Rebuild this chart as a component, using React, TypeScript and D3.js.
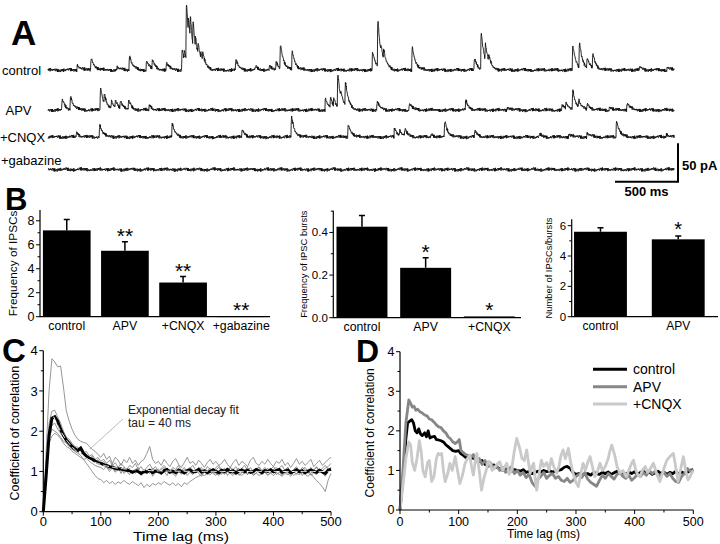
import React from 'react';
import * as d3 from 'd3';

const FONT = "'Liberation Sans', Arial, Helvetica, sans-serif";

// ---------------- Panel A: raw traces (event times in ms, amplitudes in pA) ----------------
const TRACE_LABELS = ['control', 'APV', '+CNQX', '+gabazine'];
const CONTROL_EVENTS: number[][] = [
  [230, 7], [339, 16], [545, 4], [643, 18], [778, 12], [825, 11], [937, 9], [1061, 26], [1080, 12],
  [1095, 72], [1112, 22], [1127, 32], [1148, 34], [1168, 15], [1188, 17], [1210, 8], [1225, 9],
  [1487, 12], [1643, 4], [1754, 4], [1807, 10], [1841, 31], [1934, 24], [2572, 23], [2614, 60],
  [2640, 9], [2661, 12], [2887, 31], [3381, 15], [3434, 47], [3468, 21], [3495, 7], [4161, 31],
  [4214, 33], [4275, 12], [4320, 19], [4693, 4], [4910, 4],
];
const APV_EVENTS: number[][] = [
  [109, 13], [175, 17], [413, 29], [444, 13], [500, 9], [532, 9], [571, 10], [637, 11], [801, 6],
  [2198, 15], [2238, 12], [2264, 10], [2296, 42], [2320, 8], [2357, 30], [2609, 10], [2865, 8],
  [3312, 12], [3641, 4], [4077, 6], [4109, 7], [4161, 25], [4209, 9], [4276, 8], [4453, 4], [4593, 9],
];
const CNQX_EVENTS: number[][] = [
  [222, 6], [407, 16], [982, 16], [1537, 9], [1929, 26], [2379, 17], [2746, 12], [2788, 7],
  [2828, 8], [3037, 4], [3145, 20], [3384, 8], [3900, 3], [4130, 4], [4276, 5], [4508, 21], [4905, 4],
];
const GABAZINE_EVENTS: number[][] = [];
const TRACE_BASELINES_PX = [70, 110, 137, 169.5];
const NOISE_FAST = [0.6, -0.9, 1.2, -0.4, 0.2, -1.3, 0.8, -0.1, 1.0, -0.7, 0.3, -1.1, 0.9, -0.5, 1.4, -0.2, 0.5, -1.2, 0.1, 0.7, -0.8, 1.1, -0.3, 0.4, -1.4, 0.6, -0.6, 1.3, 0.0, -1.0, 0.8, -0.4, 0.2, 1.0, -0.9, 0.5, -1.2, 0.3, 0.9, -0.7, 1.2, -0.1, -0.5, 0.7, -1.3, 0.4, 1.1, -0.8, 0.1, -0.3, 0.9, -1.0, 0.6];
const NOISE_SLOW = [0.4, 0.9, 0.6, -0.2, -0.8, -1.0, -0.5, 0.3, 0.8, 1.0, 0.5, -0.1, -0.7, -0.9, -0.4, 0.2, 0.7, 0.9, 0.3, -0.3, -0.8, -0.6, 0.1, 0.6, 1.0, 0.7, 0.0, -0.6, -1.0, -0.7, -0.2, 0.4, 0.8, 0.5, -0.1, -0.5, -0.3];
const TRACE_DURATION = 4970;
const SAMPLE_MS = 2;

// ---------------- Panel B: bar charts ----------------
const B1_CATS = ['control', 'APV', '+CNQX', '+gabazine'];
const B1_VALUES = [7.2, 5.5, 2.85, 0.05];
const B1_ERRORS = [0.9, 0.75, 0.5, 0];
const B1_STARS = ['', '**', '**', '**'];
const B1_TICKS = [0, 2, 4, 6, 8];
const B1_MINOR = [1, 3, 5, 7];

const B2_CATS = ['control', 'APV', '+CNQX'];
const B2_VALUES = [0.427, 0.234, 0.006];
const B2_ERRORS = [0.053, 0.047, 0];
const B2_STARS = ['', '*', '*'];
const B2_TICKS = [0, 0.2, 0.4];
const B2_MINOR = [0.1, 0.3, 0.5];

const B3_CATS = ['control', 'APV'];
const B3_VALUES = [5.6, 5.1];
const B3_ERRORS = [0.27, 0.22];
const B3_STARS = ['', '*'];
const B3_TICKS = [0, 2, 4, 6];
const B3_MINOR = [1, 3, 5];

// ---------------- Panel C: cross-correlograms (5 ms bins) ----------------
const C_G1 = [0, 1.5, 3.0, 3.8, 3.72, 3.6, 3.62, 3.1, 2.5, 2.25, 2.05, 1.9, 1.8, 1.75, 1.72, 1.7, 1.62, 1.55, 1.5, 1.42, 1.35, 1.45, 1.3, 1.38, 1.2, 1.35, 1.28, 1.15, 1.3, 1.22, 1.35, 1.2, 1.28, 1.15, 1.25, 1.3, 1.45, 1.62, 1.3, 1.2, 1.25, 1.15, 1.3, 1.2, 1.12, 1.25, 1.32, 1.18, 1.1, 1.22, 1.35, 1.2, 1.25, 1.15, 1.28, 1.2, 1.1, 1.22, 1.3, 1.18, 1.25, 1.15, 1.2, 1.3, 1.18, 1.1, 1.22, 1.3, 1.15, 1.25, 1.2, 1.12, 1.28, 1.35, 1.2, 1.15, 1.25, 1.18, 1.3, 1.2, 1.12, 1.25, 1.2, 1.3, 1.15, 1.22, 1.1, 1.2, 1.32, 1.18, 1.25, 1.15, 1.22, 1.3, 1.12, 1.2, 1.28, 1.15, 1.22, 1.3, 1.35];
const C_G2 = [0, 1.2, 2.2, 2.5, 2.52, 2.35, 2.2, 2.0, 1.85, 1.8, 1.7, 1.62, 1.6, 1.5, 1.45, 1.5, 1.38, 1.42, 1.3, 1.35, 1.25, 1.3, 1.2, 1.28, 1.15, 1.22, 1.1, 1.2, 1.12, 1.05, 1.15, 1.1, 1.2, 1.05, 1.12, 1.0, 1.1, 1.18, 1.05, 1.12, 1.0, 1.08, 1.15, 1.05, 0.98, 1.1, 1.05, 1.15, 1.02, 1.1, 0.98, 1.08, 1.15, 1.02, 1.1, 1.05, 0.98, 1.12, 1.05, 1.0, 1.1, 1.15, 1.02, 1.08, 0.98, 1.1, 1.05, 1.12, 1.0, 1.08, 1.15, 1.02, 1.1, 0.98, 1.05, 1.12, 1.02, 1.1, 0.97, 1.05, 1.12, 1.0, 1.08, 1.15, 1.02, 1.1, 0.98, 1.05, 1.12, 1.0, 1.1, 1.05, 0.95, 1.1, 1.02, 1.12, 1.0, 1.08, 1.15, 1.05, 1.1];
const C_G3 = [0, 1.0, 1.8, 2.05, 2.0, 1.95, 1.85, 1.75, 1.7, 1.62, 1.55, 1.5, 1.45, 1.4, 1.3, 1.2, 1.1, 1.0, 0.9, 0.82, 0.8, 0.72, 0.78, 0.7, 0.75, 0.68, 0.74, 0.7, 0.78, 0.72, 0.68, 0.75, 0.7, 0.65, 0.72, 0.6, 0.68, 0.62, 0.7, 0.66, 0.72, 0.68, 0.75, 0.7, 0.66, 0.72, 0.65, 0.7, 0.62, 0.72, 0.68, 0.75, 0.8, 0.85, 0.88, 0.92, 0.9, 0.95, 0.92, 0.98, 0.95, 0.9, 0.97, 0.93, 1.0, 0.95, 0.9, 0.98, 0.94, 0.9, 0.97, 0.93, 0.99, 0.92, 0.96, 0.9, 0.95, 0.98, 0.92, 0.96, 0.9, 0.97, 0.93, 0.88, 0.95, 0.92, 0.98, 0.9, 0.95, 0.92, 0.97, 0.93, 0.88, 0.95, 0.85, 0.78, 0.7, 0.62, 0.5, 0.78, 0.95];
const C_G4 = [0, 1.1, 1.9, 2.15, 2.2, 2.05, 1.95, 1.85, 1.72, 1.65, 1.55, 1.6, 1.48, 1.42, 1.5, 1.35, 1.3, 1.38, 1.22, 1.3, 1.18, 1.25, 1.1, 1.05, 1.2, 1.0, 1.12, 0.95, 1.1, 1.0, 0.92, 1.05, 0.95, 1.08, 0.9, 1.0, 0.94, 1.05, 0.88, 0.98, 1.05, 0.92, 1.0, 0.9, 1.05, 0.95, 0.88, 1.0, 0.93, 1.05, 0.9, 0.98, 0.92, 1.05, 0.95, 0.88, 1.0, 0.92, 1.05, 0.95, 0.9, 1.0, 0.93, 1.05, 0.9, 0.98, 0.94, 1.02, 0.9, 0.97, 1.05, 0.92, 1.0, 0.9, 0.96, 1.05, 0.92, 1.0, 0.9, 0.97, 1.04, 0.92, 0.98, 0.9, 1.02, 0.95, 0.88, 1.0, 0.93, 1.05, 0.9, 0.98, 1.03, 0.9, 0.97, 0.92, 1.05, 0.95, 0.88, 1.0, 1.05];
const C_G5 = [0, 1.0, 1.7, 1.88, 1.95, 1.9, 1.82, 1.7, 1.62, 1.58, 1.5, 1.45, 1.4, 1.35, 1.3, 1.32, 1.25, 1.2, 1.15, 1.12, 1.1, 1.05, 1.12, 1.0, 1.08, 0.98, 1.05, 1.1, 0.95, 1.02, 1.08, 0.96, 1.04, 1.1, 0.98, 1.05, 1.0, 0.95, 1.08, 1.02, 0.96, 1.05, 1.1, 0.98, 1.05, 0.95, 1.02, 1.08, 1.0, 0.95, 1.05, 1.1, 1.0, 0.96, 1.05, 1.1, 0.98, 1.02, 1.08, 0.96, 1.04, 1.1, 1.0, 0.95, 1.05, 1.1, 0.98, 1.03, 1.08, 0.96, 1.02, 1.1, 1.0, 0.95, 1.05, 1.1, 0.98, 1.02, 1.08, 0.96, 1.05, 1.1, 1.0, 0.95, 1.04, 1.1, 0.98, 1.02, 1.08, 0.96, 1.05, 1.1, 1.0, 0.95, 1.05, 1.1, 0.98, 1.02, 1.08, 1.12, 1.2];
const C_MEAN = [0, 0.9, 1.9, 2.32, 2.36, 2.25, 2.05, 1.9, 1.78, 1.7, 1.62, 1.56, 1.52, 1.58, 1.45, 1.38, 1.33, 1.3, 1.26, 1.22, 1.2, 1.17, 1.15, 1.12, 1.1, 1.08, 1.06, 1.06, 1.04, 1.03, 1.02, 0.98, 1.02, 1.0, 0.95, 1.0, 0.99, 1.03, 0.97, 1.01, 1.0, 0.96, 1.02, 1.05, 0.98, 1.01, 0.97, 1.03, 1.0, 0.96, 1.02, 1.04, 0.99, 1.0, 1.05, 0.98, 1.02, 0.97, 1.0, 1.04, 1.0, 0.97, 1.03, 1.0, 1.05, 0.99, 1.02, 0.96, 1.01, 1.04, 0.99, 1.03, 0.98, 1.0, 1.05, 1.01, 0.97, 1.02, 1.0, 1.04, 0.99, 1.02, 1.05, 0.98, 1.01, 1.03, 0.97, 1.0, 1.04, 0.99, 1.02, 0.97, 1.01, 1.04, 1.0, 0.98, 1.03, 0.99, 0.95, 1.03, 1.06];
const C_BIN_MS = 5;
const FIT_TAU = 40;
const FIT_AMP = 1.36;
const FIT_OFFSET = 1.0;
const FIT_START = 18;

// ---------------- Panel D: group correlograms [ms, coefficient] ----------------
const D_CONTROL: number[][] = [[0, 0], [5, 0.8], [10, 1.8], [13, 2.2], [17, 2.25], [20, 2.28], [23, 2.2], [26, 2.0], [29, 1.95], [32, 2.05], [35, 1.92], [38, 1.88], [42, 1.95], [45, 1.85], [48, 2.0], [51, 1.82], [55, 1.85], [59, 1.86], [62, 1.78], [66, 1.77], [70, 1.75], [74, 1.72], [78, 1.65], [82, 1.6], [86, 1.55], [90, 1.5], [95, 1.48], [100, 1.5], [104, 1.42], [108, 1.38], [112, 1.33], [116, 1.35], [120, 1.3], [125, 1.32], [130, 1.25], [135, 1.22], [140, 1.25], [145, 1.15], [150, 1.18], [155, 1.1], [160, 1.14], [165, 1.08], [170, 1.05], [175, 1.0], [180, 1.05], [185, 1.0], [190, 0.98], [195, 1.02], [200, 1.0], [205, 0.98], [210, 1.02], [215, 0.95], [220, 0.97], [225, 0.92], [230, 0.95], [235, 0.98], [240, 0.96], [245, 1.0], [250, 0.97], [255, 0.99], [260, 0.96], [265, 0.98], [270, 1.0], [275, 1.02], [280, 1.08], [285, 1.1], [290, 1.05], [295, 0.95], [300, 0.9], [305, 0.92], [310, 0.88], [315, 0.9], [320, 0.92], [325, 0.88], [330, 0.95], [335, 0.92], [340, 0.9], [345, 0.95], [350, 0.92], [355, 0.96], [360, 0.9], [365, 0.94], [370, 0.98], [375, 0.92], [380, 0.95], [385, 0.9], [390, 0.96], [395, 0.92], [400, 0.97], [405, 0.9], [410, 0.95], [415, 0.98], [420, 0.92], [425, 0.96], [430, 0.9], [435, 0.94], [440, 0.98], [445, 0.92], [450, 0.96], [455, 0.9], [460, 0.95], [465, 0.92], [470, 0.98], [475, 0.9], [480, 0.96], [485, 0.92], [490, 0.95], [495, 1.0], [500, 1.02]];
const D_APV: number[][] = [[0, 0], [5, 1.0], [10, 2.2], [15, 2.78], [18, 2.7], [21, 2.6], [24, 2.62], [27, 2.52], [30, 2.55], [34, 2.48], [38, 2.45], [42, 2.4], [46, 2.38], [50, 2.3], [54, 2.28], [58, 2.22], [62, 2.15], [66, 2.1], [70, 2.08], [74, 2.0], [78, 1.95], [82, 1.85], [86, 1.8], [90, 1.72], [94, 1.68], [98, 1.72], [101, 1.78], [104, 1.5], [108, 1.45], [112, 1.4], [116, 1.38], [120, 1.32], [125, 1.4], [130, 1.22], [135, 1.3], [140, 1.15], [145, 1.25], [150, 1.1], [155, 1.18], [160, 1.05], [165, 1.12], [170, 1.0], [175, 1.08], [180, 0.95], [185, 1.02], [190, 1.1], [195, 0.92], [200, 1.0], [205, 0.88], [210, 0.95], [215, 0.82], [220, 0.9], [225, 0.7], [230, 0.6], [235, 0.78], [240, 0.85], [245, 0.95], [250, 0.8], [255, 0.88], [260, 0.92], [265, 0.8], [270, 0.85], [275, 0.75], [280, 0.72], [285, 0.8], [290, 0.7], [295, 0.75], [300, 0.85], [305, 0.9], [310, 0.82], [315, 0.95], [320, 0.78], [325, 0.7], [330, 0.65], [335, 0.6], [340, 0.75], [345, 0.88], [350, 0.8], [355, 0.92], [360, 0.85], [365, 0.78], [370, 0.9], [375, 0.95], [380, 0.85], [385, 0.8], [390, 0.88], [395, 0.75], [400, 0.82], [405, 0.9], [410, 0.85], [415, 0.95], [420, 0.88], [425, 1.0], [430, 0.92], [435, 0.98], [440, 0.85], [445, 0.9], [450, 0.95], [455, 0.85], [460, 0.92], [465, 0.8], [470, 0.72], [475, 0.7], [480, 0.85], [485, 0.92], [490, 1.05], [495, 0.98], [500, 1.0]];
const D_CNQX: number[][] = [[0, 0], [5, 0.6], [10, 1.3], [15, 1.72], [18, 1.65], [21, 1.2], [25, 1.0], [29, 1.3], [33, 1.75], [36, 1.5], [39, 1.0], [43, 0.84], [47, 1.2], [50, 1.25], [54, 0.72], [58, 0.85], [62, 1.3], [65, 1.43], [68, 1.4], [71, 1.43], [74, 1.0], [77, 0.72], [81, 0.9], [85, 1.18], [89, 1.0], [94, 1.35], [98, 1.0], [102, 0.67], [106, 0.85], [111, 1.18], [115, 1.3], [119, 1.39], [122, 1.1], [125, 0.88], [128, 1.2], [131, 1.43], [135, 1.0], [139, 0.5], [143, 0.8], [147, 1.0], [150, 1.22], [153, 1.22], [157, 1.0], [160, 1.05], [165, 1.15], [170, 1.22], [175, 1.0], [179, 1.1], [182, 1.18], [186, 0.9], [190, 1.0], [195, 1.5], [199, 1.81], [204, 1.56], [208, 1.3], [212, 1.25], [216, 1.52], [219, 1.2], [222, 0.93], [225, 1.1], [228, 1.18], [231, 0.7], [233, 0.5], [237, 0.9], [241, 1.26], [245, 1.1], [250, 1.2], [254, 1.0], [258, 1.3], [262, 1.1], [267, 0.93], [271, 1.1], [274, 1.35], [278, 1.52], [282, 1.3], [287, 1.56], [291, 1.2], [295, 0.93], [300, 0.7], [304, 0.59], [308, 0.9], [312, 1.18], [316, 1.0], [320, 1.2], [324, 1.35], [328, 1.1], [332, 0.84], [336, 0.95], [341, 1.18], [345, 1.0], [350, 1.1], [355, 1.3], [358, 1.5], [361, 1.64], [366, 1.39], [370, 1.1], [375, 0.93], [380, 1.0], [386, 0.84], [390, 1.0], [394, 1.15], [398, 1.26], [402, 1.0], [405, 0.9], [409, 0.84], [413, 1.0], [418, 1.1], [422, 0.95], [427, 1.05], [432, 1.18], [437, 0.95], [443, 0.72], [448, 0.95], [451, 1.1], [455, 1.26], [460, 1.35], [466, 1.43], [470, 1.1], [474, 0.72], [478, 1.0], [483, 1.35], [487, 1.0], [491, 0.76], [495, 0.85], [497, 0.93], [500, 1.0]];
const D_LEGEND = ['control', 'APV', '+CNQX'];
const D_COLORS = ['#000000', '#878787', '#c9c9c9'];

const CORR_X_TICKS = [0, 100, 200, 300, 400, 500];
const CORR_X_MINOR = [50, 150, 250, 350, 450];
const CORR_Y_TICKS = [0, 1, 2, 3, 4];
const CORR_Y_MINOR = [0.5, 1.5, 2.5, 3.5];

function buildTrace(events: number[][], fastOff: number, slowOff: number) {
  const n = Math.floor(TRACE_DURATION / SAMPLE_MS);
  const out: [number, number][] = [];
  for (let i = 0; i <= n; i++) {
    const t = i * SAMPLE_MS;
    let v =
      NOISE_FAST[(i * 3 + fastOff) % NOISE_FAST.length] * 1.5 +
      NOISE_SLOW[Math.floor((i + slowOff) / 9) % NOISE_SLOW.length] * 0.8;
    for (const [te, a] of events) {
      const d = t - te;
      if (d >= 0 && d < 300) v += (a * (1 - Math.exp(-d / 1.8)) * Math.exp(-d / 24)) / 0.77;
    }
    out.push([t, v]);
  }
  return out;
}

function PanelA() {
  const x = d3.scaleLinear().domain([0, 5000]).range([48, 678]);
  const evs = [CONTROL_EVENTS, APV_EVENTS, CNQX_EVENTS, GABAZINE_EVENTS];
  const labelPos = [
    { x: 2, y: 74.5, anchor: 'start' },
    { x: 18.5, y: 114.5, anchor: 'middle' },
    { x: 0, y: 141.5, anchor: 'start' },
    { x: 1, y: 164.5, anchor: 'start' },
  ];
  const yBar = d3.scaleLinear().domain([0, 50]).range([181.7, 143.3]);
  return (
    <g>
      <text x={11} y={45} fontSize={35} fontWeight="bold" fontFamily={FONT}>A</text>
      {evs.map((e, k) => {
        const y = d3.scaleLinear().domain([0, 50]).range([TRACE_BASELINES_PX[k], TRACE_BASELINES_PX[k] - 38]);
        const line = d3.line<[number, number]>().x((d) => x(d[0])).y((d) => y(d[1]));
        const data = buildTrace(e, k * 13, k * 29);
        return <path key={k} d={line(data) || ''} fill="none" stroke="#111" strokeWidth={0.9} />;
      })}
      {TRACE_LABELS.map((l, k) => (
        <text key={l} x={labelPos[k].x} y={labelPos[k].y} fontSize={13} fontFamily={FONT} textAnchor={labelPos[k].anchor}>{l}</text>
      ))}
      <path d={`M${x(4500)},${yBar(0)}H${x(5000)}V${yBar(50)}`} fill="none" stroke="#000" strokeWidth={2} />
      <text x={682} y={170} fontSize={13} fontWeight="bold" fontFamily={FONT}>50 pA</text>
      <text x={x(4750)} y={196} fontSize={13} fontWeight="bold" fontFamily={FONT} textAnchor="middle">500 ms</text>
    </g>
  );
}

interface BarProps {
  cats: string[]; values: number[]; errors: number[]; stars: string[];
  ticks: number[]; minor: number[]; yMax: number;
  axisX: number; bandEnd: number; axisEnd: number; y0: number; yTop: number;
  pi: number; po: number;
  label: string; labelX: number; labelSize: number; tickSize: number; catSize: number;
  fmt: (v: number) => string; starSize: number; catY: number;
}

function BarPanel(p: BarProps) {
  const x = d3.scaleBand<string>().domain(p.cats).range([p.axisX, p.bandEnd]).paddingInner(p.pi).paddingOuter(p.po);
  const y = d3.scaleLinear().domain([0, p.yMax]).range([p.y0, p.yTop]);
  const bw = x.bandwidth();
  return (
    <g fontFamily={FONT}>
      {p.cats.map((c, i) => {
        const cx = (x(c) as number) + bw / 2;
        const top = y(p.values[i] + p.errors[i]);
        return (
          <g key={c}>
            <rect x={x(c)} y={y(p.values[i])} width={bw} height={Math.max(1, p.y0 - y(p.values[i]))} fill="#000" />
            {p.errors[i] > 0 && (
              <path d={`M${cx},${y(p.values[i])}V${top}M${cx - 3},${top}H${cx + 3}`} stroke="#000" strokeWidth={1.5} fill="none" />
            )}
            {p.stars[i] && (
              <text x={cx} y={top - 11 + 0.57 * p.starSize} fontSize={p.starSize} textAnchor="middle">{p.stars[i]}</text>
            )}
            <text x={cx} y={p.catY} fontSize={p.catSize} textAnchor="middle">{c}</text>
          </g>
        );
      })}
      <path d={`M${p.axisX},${p.yTop}V${p.y0}H${p.axisEnd}`} stroke="#000" strokeWidth={1.2} fill="none" />
      {p.ticks.map((t) => (
        <g key={t}>
          <line x1={p.axisX - 4} x2={p.axisX} y1={y(t)} y2={y(t)} stroke="#000" strokeWidth={1} />
          <text x={p.axisX - 5.5} y={y(t)} dy="0.35em" fontSize={p.tickSize} textAnchor="end">{p.fmt(t)}</text>
        </g>
      ))}
      {p.minor.map((t) => (
        <line key={t} x1={p.axisX - 2.5} x2={p.axisX} y1={y(t)} y2={y(t)} stroke="#000" strokeWidth={1} />
      ))}
      <text transform={`translate(${p.labelX},${(p.y0 + p.yTop) / 2}) rotate(-90)`} dy="0.35em" fontSize={p.labelSize} textAnchor="middle">{p.label}</text>
    </g>
  );
}

interface CorrAxesProps {
  x: d3.ScaleLinear<number, number>; y: d3.ScaleLinear<number, number>;
  tickSize: number; labelX: number; titleX: number; titleW: number; titleY: number; titleSize: number; tickY: number; labelSize: number;
}

function CorrAxes(p: CorrAxesProps) {
  const [x0, x1] = p.x.range();
  const [y0, y1] = p.y.range();
  return (
    <g fontFamily={FONT}>
      <path d={`M${x0},${y1}V${y0}H${x1}`} stroke="#000" strokeWidth={1.2} fill="none" />
      {CORR_X_TICKS.map((t) => (
        <g key={t}>
          <line x1={p.x(t)} x2={p.x(t)} y1={y0} y2={y0 + 4} stroke="#000" />
          <text x={p.x(t)} y={p.tickY} fontSize={p.tickSize} textAnchor="middle">{t}</text>
        </g>
      ))}
      {CORR_X_MINOR.map((t) => (
        <line key={t} x1={p.x(t)} x2={p.x(t)} y1={y0} y2={y0 + 2.5} stroke="#000" />
      ))}
      {CORR_Y_TICKS.map((t) => (
        <g key={t}>
          <line x1={x0 - 4} x2={x0} y1={p.y(t)} y2={p.y(t)} stroke="#000" />
          <text x={x0 - 5.5} y={p.y(t)} dy="0.35em" fontSize={p.tickSize} textAnchor="end">{t}</text>
        </g>
      ))}
      {CORR_Y_MINOR.map((t) => (
        <line key={t} x1={x0 - 2.5} x2={x0} y1={p.y(t)} y2={p.y(t)} stroke="#000" />
      ))}
      <text x={p.titleX} y={p.titleY} fontSize={p.titleSize} textAnchor="middle" textLength={p.titleW} lengthAdjust="spacingAndGlyphs">Time lag (ms)</text>
      <text transform={`translate(${p.labelX},${(y0 + y1) / 2 + 2}) rotate(-90)`} dy="0.35em" fontSize={p.labelSize} textAnchor="middle">Coefficient of correlation</text>
    </g>
  );
}

function PanelC() {
  const x = d3.scaleLinear().domain([0, 500]).range([43.3, 331]);
  const y = d3.scaleLinear().domain([0, 4]).range([511.7, 350.7]);
  const line = d3.line<number>().x((_, i) => x(i * C_BIN_MS)).y((d) => y(d));
  const grays = [C_G3, C_G4, C_G5, C_G2, C_G1];
  const fitPts = d3.range(FIT_START, 501, 2).map((t) => [t, FIT_OFFSET + FIT_AMP * Math.exp(-(t - FIT_START) / FIT_TAU)]);
  const fitLine = d3.line<number[]>().x((d) => x(d[0])).y((d) => y(d[1]));
  return (
    <g>
      <text x={2} y={362} fontSize={33} fontWeight="bold" fontFamily={FONT}>C</text>
      {grays.map((g, i) => (
        <path key={i} d={line(g) || ''} fill="none" stroke="#7a7a7a" strokeWidth={0.8} />
      ))}
      <path d={line(C_MEAN) || ''} fill="none" stroke="#000" strokeWidth={3} />
      <path d={fitLine(fitPts) || ''} fill="none" stroke="#fff" strokeWidth={1} strokeDasharray="6,3" />
      <line x1={123} y1={419} x2={90} y2={449} stroke="#aaa" strokeWidth={0.8} />
      <text x={128} y={414} fontSize={12} fontFamily={FONT} fill="#222">Exponential decay fit</text>
      <text x={128} y={426.5} fontSize={12} fontFamily={FONT} fill="#222">tau = 40 ms</text>
      <CorrAxes x={x} y={y} tickSize={13} labelX={15} titleX={181} titleW={96} titleY={541} titleSize={13.5} tickY={526} labelSize={12.5} />
    </g>
  );
}

function PanelD() {
  const x = d3.scaleLinear().domain([0, 500]).range([400, 693.3]);
  const y = d3.scaleLinear().domain([0, 4]).range([510, 351.7]);
  const line = d3.line<number[]>().x((d) => x(d[0])).y((d) => y(d[1]));
  const series = [D_CONTROL, D_APV, D_CNQX];
  const legY = [369.3, 386.7, 404];
  return (
    <g>
      <text x={356} y={362} fontSize={32} fontWeight="bold" fontFamily={FONT}>D</text>
      {series.map((s, i) => (
        <path key={i} d={line(s) || ''} fill="none" stroke={D_COLORS[i]} strokeWidth={2.8} strokeLinejoin="round" />
      ))}
      {D_LEGEND.map((l, i) => (
        <g key={l}>
          <line x1={593} x2={627} y1={legY[i]} y2={legY[i]} stroke={D_COLORS[i]} strokeWidth={3} />
          <text x={633} y={legY[i]} dy="0.35em" fontSize={14} fontFamily={FONT}>{l}</text>
        </g>
      ))}
      <CorrAxes x={x} y={y} tickSize={12.5} labelX={370} titleX={543.5} titleW={73} titleY={538} titleSize={12} tickY={525.5} labelSize={12} />
    </g>
  );
}

export default function App() {
  return (
    <svg width={720} height={544} viewBox="0 0 720 544" style={{ position: 'absolute', left: 0, top: 0, background: '#fff' }}>
      <rect width={720} height={544} fill="#fff" />
      <PanelA />
      <text x={5} y={210} fontSize={31} fontWeight="bold" fontFamily={FONT}>B</text>
      <BarPanel cats={B1_CATS} values={B1_VALUES} errors={B1_ERRORS} stars={B1_STARS} ticks={B1_TICKS} minor={B1_MINOR}
        yMax={8.9} axisX={40} bandEnd={268} axisEnd={270} y0={316.7} yTop={210} pi={0.18} po={0.05}
        label="Frequency of IPSCs" labelX={13} labelSize={11.8} tickSize={12.5} catSize={12.3}
        fmt={(v) => String(v)} starSize={21} catY={330} />
      <BarPanel cats={B2_CATS} values={B2_VALUES} errors={B2_ERRORS} stars={B2_STARS} ticks={B2_TICKS} minor={B2_MINOR}
        yMax={0.502} axisX={333.3} bandEnd={518} axisEnd={521} y0={317.7} yTop={210.7} pi={0.2} po={0.05}
        label="Frequency of IPSC bursts" labelX={303.5} labelSize={9.4} tickSize={11.5} catSize={12.3}
        fmt={(v) => v.toFixed(1)} starSize={21} catY={330.5} />
      <BarPanel cats={B3_CATS} values={B3_VALUES} errors={B3_ERRORS} stars={B3_STARS} ticks={B3_TICKS} minor={B3_MINOR}
        yMax={6.42} axisX={571.7} bandEnd={707} axisEnd={718} y0={316.7} yTop={219.3} pi={0.32} po={0.03}
        label="Number of IPSCs/bursts" labelX={548.5} labelSize={9.4} tickSize={11.5} catSize={12}
        fmt={(v) => String(v)} starSize={20} catY={329.5} />
      <PanelC />
      <PanelD />
    </svg>
  );
}
